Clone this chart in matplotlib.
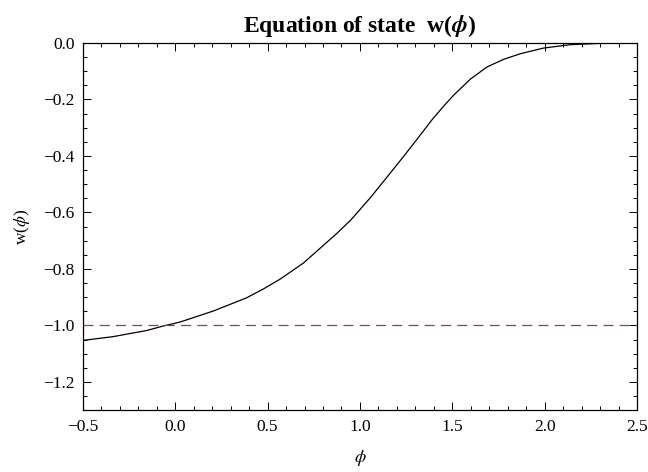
import numpy as np
import matplotlib
matplotlib.use('Agg')
import matplotlib.pyplot as plt
from matplotlib.ticker import MultipleLocator

plt.rcParams['font.family'] = ['Liberation Serif', 'DejaVu Serif']
plt.rcParams['mathtext.fontset'] = 'stix'

# values
phi = [-0.5, -0.34, -0.155, -0.065, 0.026, 0.206, 0.387, 0.477, 0.568, 0.694,
       0.875, 0.95, 1.056, 1.15, 1.236, 1.31, 1.39, 1.45, 1.507, 1.598, 1.688,
       1.778, 1.869, 1.995, 2.14, 2.32, 2.5]
w = [-1.053, -1.040, -1.018, -1.002, -0.988, -0.949, -0.902, -0.871, -0.836,
     -0.779, -0.674, -0.627, -0.548, -0.472, -0.402, -0.340, -0.272, -0.226,
     -0.185, -0.128, -0.085, -0.058, -0.038, -0.018, -0.006, -0.001, 0.0]
w_lambda = -1.0

fig = plt.figure(figsize=(6.48, 4.72), dpi=100)
ax = fig.add_axes([0.128, 0.131, 0.855, 0.778])

ax.plot(phi, w, color='black', lw=0.9, solid_joinstyle='round')
ax.axhline(w_lambda, color='#a0306e', lw=0.9, dashes=(8, 5))

ax.set_xlim(-0.5, 2.5)
ax.set_ylim(-1.3, 0.0)
ax.xaxis.set_major_locator(MultipleLocator(0.5))
ax.xaxis.set_minor_locator(MultipleLocator(0.1))
ax.yaxis.set_major_locator(MultipleLocator(0.2))
ax.yaxis.set_minor_locator(MultipleLocator(0.05))
fmt = plt.FuncFormatter(lambda v, p: ('%.1f' % v).replace('-', '\u2212'))
ax.xaxis.set_major_formatter(fmt)
ax.yaxis.set_major_formatter(fmt)
ax.tick_params(which='both', direction='in', top=True, right=True, labelsize=12.5, width=0.7)
ax.tick_params(which='major', length=6, pad=6)
ax.tick_params(which='minor', length=3)
for s in ax.spines.values():
    s.set_linewidth(0.9)

ax.set_xlabel(r'$\phi$', fontsize=13, labelpad=10)
ax.set_ylabel(r'w($\phi$)', fontsize=12.5, labelpad=8)
ax.set_title(r'Equation of state  w($\boldsymbol{\phi}$)', fontsize=17, fontweight='bold', pad=8)

plt.savefig('out.png', dpi=100)
